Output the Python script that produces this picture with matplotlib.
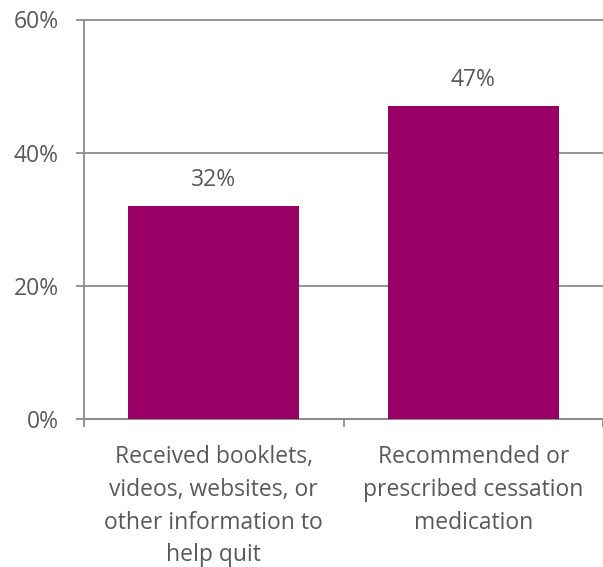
import numpy as np
import matplotlib
matplotlib.use("Agg")
import matplotlib.pyplot as plt

categories = [
    "Received booklets,\nvideos, websites, or\nother information to\nhelp quit",
    "Recommended or\nprescribed cessation\nmedication",
]
values = [32, 47]
yticks = [0, 20, 40, 60]

bar_color = "#990066"
axis_color = "#8c8c8c"
text_color = "#595959"
fs = 16.5

plt.rcParams["font.family"] = ["Open Sans", "DejaVu Sans"]

fig = plt.figure(figsize=(6.03, 5.67), dpi=100)
ax = fig.add_axes([84 / 603, 1 - 419 / 567, 1 - 84 / 603, (419 - 19.5) / 567])

x = np.arange(len(categories))
ax.bar(x, values, width=0.66, color=bar_color, zorder=3)
for xi, v in zip(x, values):
    ax.annotate(f"{v}%", (xi, v), xytext=(0, 19), textcoords="offset points",
                ha="center", va="center", fontsize=fs, color=text_color)

ax.set_xlim(-0.5, len(categories) - 0.5)
ax.set_ylim(0, 60)
ax.set_yticks(yticks)
ax.set_yticklabels([f"{t}%" for t in yticks])
ax.grid(axis="y", color=axis_color, lw=1.3, zorder=0)
for gl in ax.get_ygridlines():
    gl.set_clip_on(False)

# category boundaries as ticks, names on minor ticks
ax.set_xticks(np.arange(-0.5, len(categories)), [""] * (len(categories) + 1))
ax.set_xticks(x, categories, minor=True)
ax.tick_params(axis="x", which="major", length=6, width=1.3, color=axis_color)
ax.tick_params(axis="x", which="minor", length=0, pad=19, labelsize=fs,
               labelcolor=text_color)
ax.tick_params(axis="y", length=6, width=1.3, color=axis_color, pad=12,
               labelsize=fs, labelcolor=text_color)
for lbl in ax.get_xticklabels(minor=True):
    lbl.set_linespacing(1.48)

for side in ("top", "right"):
    ax.spines[side].set_visible(False)
for side in ("left", "bottom"):
    ax.spines[side].set_color(axis_color)
    ax.spines[side].set_linewidth(1.3)

fig.savefig("out.png", dpi=100)
